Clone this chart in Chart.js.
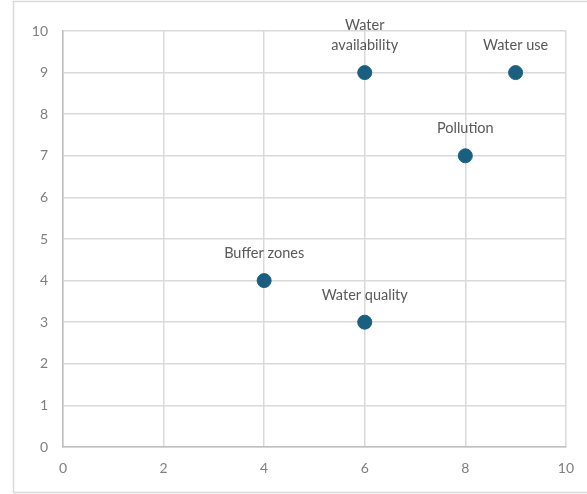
<!DOCTYPE html>
<html>
<head>
<meta charset="utf-8">
<script src="https://cdn.jsdelivr.net/npm/chart.js@4"></script>
<style>
  html, body { margin: 0; padding: 0; background: #ffffff; }
  #wrap { width: 587px; height: 494px; position: relative; }
</style>
</head>
<body>
<div id="wrap"><canvas id="chart" width="587" height="494"></canvas></div>
<script>
// Topics plotted on two 0–10 scores
const topics = [["Water", "availability"], ["Water use"], ["Pollution"], ["Buffer zones"], ["Water quality"]];
const xValues = [6, 9, 8, 4, 6];
const yValues = [9, 9, 7, 4, 3];
const xTicks = [0, 2, 4, 6, 8, 10];
const yTicks = [0, 1, 2, 3, 4, 5, 6, 7, 8, 9, 10];

const FONT = "Lato, 'Open Sans', sans-serif";

// Light frame around the whole chart
const framePlugin = {
  id: 'frame',
  beforeDraw(chart) {
    const ctx = chart.ctx;
    ctx.save();
    ctx.strokeStyle = '#d9d9d9';
    ctx.lineWidth = 1.5;
    ctx.strokeRect(13.5, 1.5, 600, 491);
    ctx.restore();
  }
};

// Text labels centred above each point
const pointLabels = {
  id: 'pointLabels',
  afterDatasetsDraw(chart) {
    const ctx = chart.ctx;
    const meta = chart.getDatasetMeta(0);
    ctx.save();
    ctx.font = '14.5px ' + FONT;
    ctx.fillStyle = '#595959';
    ctx.textAlign = 'center';
    ctx.textBaseline = 'middle';
    meta.data.forEach((pt, i) => {
      const lines = topics[i];
      lines.forEach((line, j) => {
        const offset = 27 + (lines.length - 1 - j) * 20;
        ctx.fillText(line, pt.x, pt.y - offset);
      });
    });
    ctx.restore();
  }
};

new Chart(document.getElementById('chart'), {
  type: 'scatter',
  data: {
    datasets: [{
      data: xValues.map((x, i) => ({ x: x, y: yValues[i] })),
      backgroundColor: '#1a5f80',
      borderColor: '#1a5f80',
      pointRadius: 7,
      pointHoverRadius: 7
    }]
  },
  options: {
    responsive: false,
    animation: false,
    layout: { padding: { left: 0, top: 31, right: 19, bottom: 0 } },
    plugins: { legend: { display: false }, tooltip: { enabled: false } },
    scales: {
      x: {
        type: 'linear',
        min: 0, max: 10,
        afterBuildTicks(axis) { axis.ticks = xTicks.map(v => ({ value: v })); },
        afterFit(axis) { axis.height = 47; },
        grid: { color: '#d9d9d9', lineWidth: 1.5, drawTicks: false },
        border: { color: '#bfbfbf', width: 1.5 },
        ticks: { color: '#7f7f7f', font: { family: FONT, size: 14 }, padding: 13 }
      },
      y: {
        type: 'linear',
        min: 0, max: 10,
        afterBuildTicks(axis) { axis.ticks = yTicks.map(v => ({ value: v })); },
        afterFit(axis) { axis.width = 63; },
        grid: { color: '#d9d9d9', lineWidth: 1.5, drawTicks: false },
        border: { color: '#bfbfbf', width: 1.5 },
        ticks: { color: '#7f7f7f', font: { family: FONT, size: 14 }, padding: 15 }
      }
    }
  },
  plugins: [framePlugin, pointLabels]
});
</script>
</body>
</html>
